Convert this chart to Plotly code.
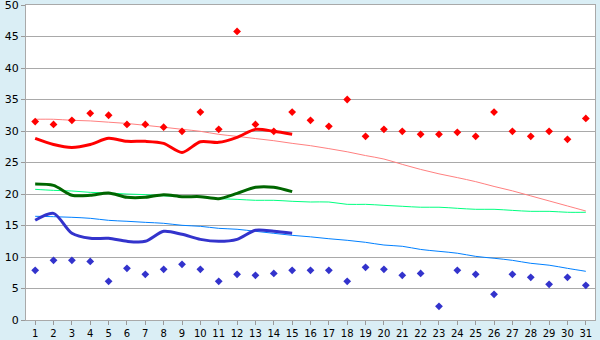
import plotly.graph_objects as go

days = list(range(1, 32))

max_vals = [31.5, 31.05, 31.7, 32.8, 32.5, 31.05, 31.05, 30.6, 29.95, 33.0,
            30.26, 45.8, 31.05, 29.95, 33.0, 31.7, 30.74, 35.0, 29.15, 30.26,
            29.95, 29.47, 29.47, 29.79, 29.15, 33.0, 29.95, 29.15, 29.95, 28.68, 32.0]

min_vals = [7.88, 9.47, 9.47, 9.3, 6.14, 8.2, 7.25, 8.04, 8.84, 8.04,
            6.14, 7.25, 7.09, 7.4, 7.88, 7.88, 7.88, 6.14, 8.36, 8.04,
            7.09, 7.4, 2.17, 7.88, 7.25, 4.07, 7.25, 6.77, 5.66, 6.77, 5.5]

avg_max = [28.83, 27.87, 27.4, 27.87, 28.83, 28.36, 28.36, 28.04, 26.6, 28.3,
           28.2, 29.0, 30.26, 29.95, 29.47]
avg_mid = [21.6, 21.37, 19.8, 19.8, 20.16, 19.47, 19.47, 19.9, 19.58, 19.58,
           19.26, 20.1, 21.06, 21.06, 20.37]
avg_min = [15.82, 16.93, 13.76, 12.96, 12.96, 12.49, 12.49, 14.08, 13.6, 12.8,
           12.49, 12.8, 14.24, 14.08, 13.76]

norm_max = [31.86, 31.86, 31.7, 31.6, 31.4, 31.2, 30.9, 30.6, 30.27, 29.95,
            29.47, 29.15, 28.8, 28.46, 28.04, 27.67, 27.2, 26.7, 26.1, 25.55,
            24.7, 23.9, 23.2, 22.6, 21.96, 21.2, 20.5, 19.7, 18.9, 18.1, 17.3]
norm_mid = [20.74, 20.58, 20.48, 20.26, 20.16, 20.0, 19.9, 19.7, 19.6, 19.47,
            19.26, 19.15, 19.0, 19.0, 18.84, 18.73, 18.73, 18.36, 18.36, 18.2,
            18.05, 17.9, 17.9, 17.73, 17.57, 17.57, 17.4, 17.25, 17.25, 17.1, 17.1]
norm_min = [16.46, 16.4, 16.3, 16.14, 15.82, 15.67, 15.5, 15.35, 15.03, 14.87,
            14.55, 14.4, 14.08, 13.76, 13.44, 13.2, 12.9, 12.65, 12.33, 11.9,
            11.7, 11.2, 10.9, 10.6, 10.1, 9.8, 9.47, 9.0, 8.7, 8.2, 7.73]

y_ticks = list(range(0, 51, 5))

fig = go.Figure()

fig.add_trace(go.Scatter(x=days, y=norm_max, mode="lines",
                         line=dict(color="#ff8080", width=1, shape="spline")))
fig.add_trace(go.Scatter(x=days, y=norm_mid, mode="lines",
                         line=dict(color="#00ff80", width=1, shape="spline")))
fig.add_trace(go.Scatter(x=days, y=norm_min, mode="lines",
                         line=dict(color="#0080ff", width=1, shape="spline")))

fig.add_trace(go.Scatter(x=days[:15], y=avg_max, mode="lines",
                         line=dict(color="#ff0000", width=3, shape="spline", smoothing=0.8)))
fig.add_trace(go.Scatter(x=days[:15], y=avg_mid, mode="lines",
                         line=dict(color="#006600", width=3, shape="spline", smoothing=0.8)))
fig.add_trace(go.Scatter(x=days[:15], y=avg_min, mode="lines",
                         line=dict(color="#3333cc", width=3, shape="spline", smoothing=0.8)))

fig.add_trace(go.Scatter(x=days, y=max_vals, mode="markers",
                         marker=dict(symbol="diamond", size=6, color="#ff0000")))
fig.add_trace(go.Scatter(x=days, y=min_vals, mode="markers",
                         marker=dict(symbol="diamond", size=6, color="#3333cc")))

fig.update_layout(
    width=600, height=340,
    margin=dict(l=26, r=5, t=5, b=20),
    paper_bgcolor="#daeef5",
    plot_bgcolor="#ffffff",
    showlegend=False,
    font=dict(family="DejaVu Sans", size=10, color="#000000"),
)
fig.update_xaxes(
    range=[0.5, 31.5], tickmode="array", tickvals=days, ticktext=[str(d) for d in days],
    ticks="outside", ticklen=4, tickcolor="#999999", automargin=False,
    ticklabeloverflow="allow",
    showline=True, linecolor="#a9a9a9", linewidth=1, mirror=True,
    showgrid=False, zeroline=False,
)
fig.update_yaxes(
    range=[0, 50], tickmode="array", tickvals=y_ticks,
    ticks="outside", ticklen=4, tickcolor="#999999", automargin=False,
    ticklabeloverflow="allow", tickfont=dict(size=11),
    showline=True, linecolor="#a9a9a9", linewidth=1, mirror=True,
    showgrid=True, gridcolor="#a9a9a9", gridwidth=1, zeroline=False,
)

fig.write_html("out.html")
